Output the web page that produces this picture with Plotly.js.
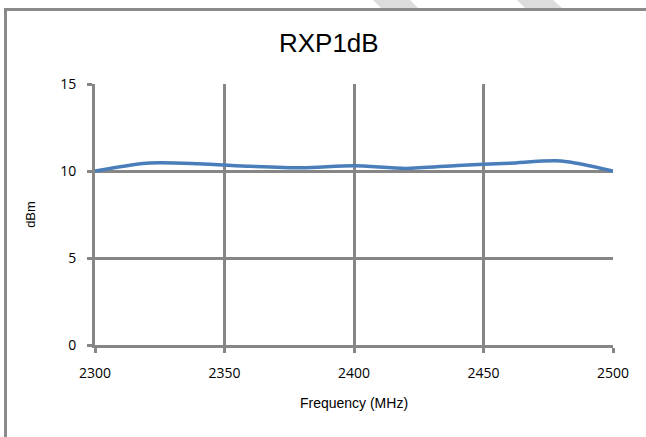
<!DOCTYPE html>
<html>
<head>
<meta charset="utf-8">
<script src="https://cdn.plot.ly/plotly-3.0.1.min.js"></script>
<style>
  html, body { margin: 0; padding: 0; background: #fff; overflow: hidden; }
  #wrap { position: relative; width: 646px; height: 437px; }
  #chart { position: absolute; left: 0; top: 0; width: 646px; height: 437px; }
  #frame { position: absolute; left: 4px; top: 8px; width: 700px; height: 500px;
           border-left: 3px solid #8a8a8a; border-top: 3px solid #8a8a8a; pointer-events: none; }
  #wm { position: absolute; left: 0; top: 0; pointer-events: none; }
</style>
</head>
<body>
<div id="wrap">
  <svg id="wm" width="646" height="12">
    <polygon points="373,0 410,0 418,8 381,8" fill="#dcdcdc"/>
    <polygon points="517,0 553,0 562,8 525,8" fill="#dcdcdc"/>
  </svg>
  <div id="chart"></div>
  <div id="frame"></div>
</div>
<script>
// Data
const frequency = [2300, 2320, 2340, 2360, 2380, 2400, 2420, 2440, 2460, 2480, 2500];
const rxP1dB    = [10.0, 10.45, 10.42, 10.27, 10.18, 10.30, 10.15, 10.32, 10.45, 10.58, 10.0];
const xTicks = [2300, 2350, 2400, 2450, 2500];
const yTicks = [0, 5, 10, 15];

const gridColor = '#868686';

const trace = {
  x: frequency,
  y: rxP1dB,
  type: 'scatter',
  mode: 'lines',
  line: { color: '#4a7ebb', width: 3.5, shape: 'spline', smoothing: 0.8 },
  showlegend: false,
  hoverinfo: 'x+y'
};

const layout = {
  width: 646,
  height: 437,
  paper_bgcolor: 'rgba(0,0,0,0)',
  plot_bgcolor: 'rgba(0,0,0,0)',
  margin: { l: 95, r: 33, t: 84, b: 92 },
  title: {
    text: 'RXP1dB',
    font: { family: 'Liberation Sans, Arial, sans-serif', size: 26, color: '#000' },
    xref: 'container', x: 0.509, xanchor: 'center',
    yref: 'container', y: 1 - 43 / 437, yanchor: 'middle'
  },
  xaxis: {
    range: [2300, 2500],
    tickvals: xTicks,
    ticktext: xTicks.map(String),
    showgrid: true, gridcolor: gridColor, gridwidth: 3,
    showline: true, linecolor: gridColor, linewidth: 3,
    zeroline: false,
    ticks: 'outside', ticklen: 5, tickwidth: 3, tickcolor: gridColor,
    tickfont: { family: 'Open Sans, sans-serif', size: 14, color: '#000' },
    ticklabelstandoff: 8,
    title: { text: 'Frequency (MHz)', standoff: 18,
             font: { family: 'Liberation Sans, Arial, sans-serif', size: 14, color: '#000' } }
  },
  yaxis: {
    range: [0, 15],
    tickvals: yTicks,
    ticktext: yTicks.map(String),
    showgrid: true, gridcolor: gridColor, gridwidth: 3,
    showline: true, linecolor: gridColor, linewidth: 3,
    zeroline: false,
    ticks: 'outside', ticklen: 5, tickwidth: 3, tickcolor: gridColor,
    tickfont: { family: 'Open Sans, sans-serif', size: 14, color: '#000' },
    ticklabelstandoff: 8,
    title: { text: 'dBm', standoff: 22,
             font: { family: 'Liberation Sans, Arial, sans-serif', size: 13, color: '#000' } }
  }
};

Plotly.newPlot('chart', [trace], layout, { displayModeBar: false, staticPlot: true });
</script>
</body>
</html>
